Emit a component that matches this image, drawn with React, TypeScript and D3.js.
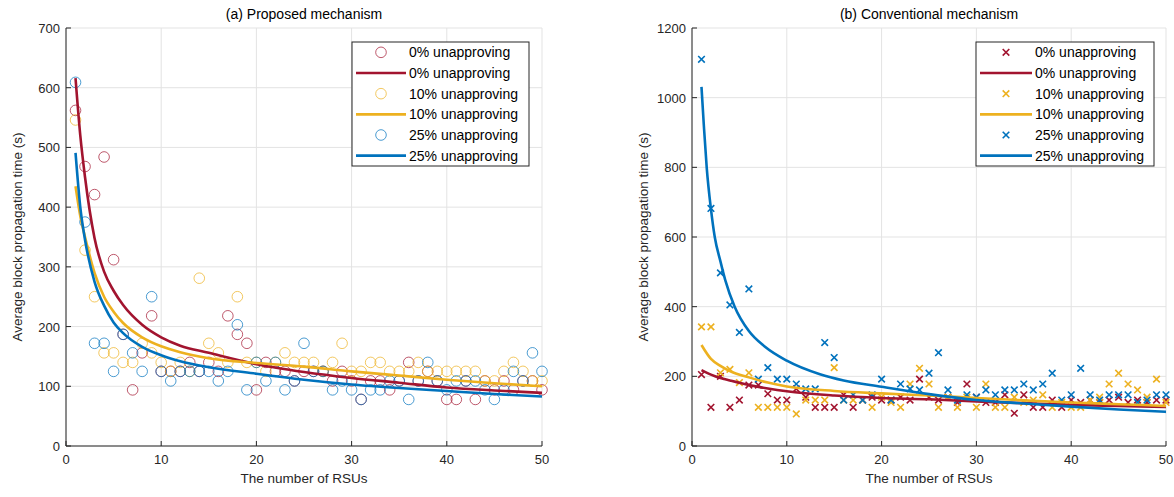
import React from "react";
import * as d3 from "d3";

// ---------- DATA ----------
const rsus = d3.range(1, 51);
const seriesNames = ["0% unapproving", "10% unapproving", "25% unapproving"];
const colors = ["#A2142F", "#EDB120", "#0072BD"];

// (a) Proposed mechanism - measured points
const propRed = [562, 468, 421, 484, 312, 187, 94, 156, 218, 125, 125, 125, 140, 125, 140, 125, 218, 187, 172, 94, 140, 125, 125, 109, 125, 125, 125, 109, 125, 109, 78, 109, 109, 94, 109, 140, 109, 125, 109, 78, 78, 109, 78, 109, 94, 109, 94, 109, 109, 94];
const propYellow = [546, 328, 250, 156, 156, 140, 140, 172, 156, 140, 125, 140, 125, 281, 172, 156, 140, 250, 140, 140, 125, 140, 156, 140, 140, 140, 125, 140, 172, 125, 125, 140, 140, 125, 125, 125, 140, 125, 125, 125, 125, 125, 125, 109, 109, 125, 140, 125, 109, 109];
const propBlue = [609, 375, 172, 172, 125, 187, 156, 125, 250, 125, 109, 125, 125, 125, 125, 109, 125, 203, 94, 140, 109, 140, 94, 109, 172, 125, 125, 94, 109, 94, 78, 94, 94, 109, 109, 78, 109, 140, 109, 94, 109, 109, 109, 94, 78, 94, 125, 109, 156, 125];

// (a) fitted curves, [RSUs, seconds]
const propRedFit: [number, number][] = [[1, 616], [1.5, 520], [2, 450], [3, 348], [4, 292], [5, 260], [6, 236], [8, 203], [10, 182], [12, 168], [15, 156], [20, 137], [25, 124], [30, 114], [35, 106], [40, 98], [45, 93], [50, 89]];
const propYellowFit: [number, number][] = [[1, 435], [1.5, 385], [2, 350], [3, 290], [4, 250], [5, 225], [6, 206], [8, 182], [10, 167], [12, 157], [15, 147], [20, 139], [25, 133], [30, 125], [35, 118], [40, 111], [45, 105], [50, 100]];
const propBlueFit: [number, number][] = [[1, 491], [1.5, 400], [2, 345], [3, 275], [4, 235], [5, 207], [6, 189], [8, 166], [10, 152], [12, 142], [15, 132], [20, 121], [25, 111], [30, 103], [35, 97], [40, 92], [45, 87], [50, 83]];

// (b) Conventional mechanism - measured points
const convRed = [205, 111, 200, 111, 132, 175, 175, 150, 132, 132, 164, 140, 111, 111, 111, 147, 111, 132, 140, 132, 132, 140, 132, 192, 140, 132, 140, 125, 178, 140, 125, 125, 147, 94, 147, 111, 111, 132, 111, 132, 125, 132, 125, 132, 140, 125, 132, 125, 132, 132];
const convYellow = [342, 342, 210, 220, 182, 210, 111, 111, 111, 111, 92, 132, 132, 132, 225, 132, 132, 132, 111, 140, 125, 111, 178, 223, 178, 111, 140, 111, 140, 111, 178, 111, 111, 140, 125, 132, 147, 111, 125, 111, 111, 132, 140, 178, 209, 178, 161, 140, 192, 125];
const convBlue = [1110, 682, 497, 405, 326, 451, 192, 225, 192, 192, 178, 164, 164, 297, 254, 132, 147, 132, 147, 192, 132, 178, 164, 161, 209, 268, 161, 132, 147, 140, 161, 147, 161, 161, 178, 161, 178, 209, 132, 147, 223, 147, 132, 147, 147, 147, 125, 132, 147, 147];

// (b) fitted curves
const convRedFit: [number, number][] = [[1, 218], [2, 205], [3, 195], [4, 188], [6, 175], [8, 165], [10, 157], [15, 145], [20, 138], [25, 134], [30, 128], [35, 123], [40, 118], [45, 115], [50, 112]];
const convYellowFit: [number, number][] = [[1, 290], [2, 250], [3, 230], [4, 215], [6, 197], [8, 182], [10, 171], [15, 158], [20, 151], [25, 145], [30, 138], [35, 131], [40, 125], [45, 120], [50, 115]];
const convBlueFit: [number, number][] = [[1, 1031], [1.25, 920], [1.55, 800], [2, 680], [2.4, 600], [3, 530], [3.5, 477], [4.5, 400], [6, 330], [7.7, 285], [10, 245], [13.5, 206], [16, 188], [20, 170], [25, 149], [30, 132], [35, 122], [40, 113], [45, 105], [50, 98]];

const xTicks = [0, 10, 20, 30, 40, 50];
const propYTicks = [0, 100, 200, 300, 400, 500, 600, 700];
const convYTicks = [0, 200, 400, 600, 800, 1000, 1200];

const titles = ["(a) Proposed mechanism", "(b) Conventional mechanism"];
const xLabel = "The number of RSUs";
const yLabel = "Average block propagation time (s)";

// ---------- DRAWING ----------
const FONT = "'Liberation Sans', Arial, Helvetica, sans-serif";
const AXIS = "#262626";
const GRID = "#e3e3e3";

type PanelProps = {
  left: number;
  right: number;
  top: number;
  bottom: number;
  yMax: number;
  yTicks: number[];
  points: number[][];
  fits: [number, number][][];
  marker: "circle" | "cross";
  title: string;
  legend: { x: number; y: number; w: number; h: number; lineX0: number; lineX1: number; textX: number };
};

function Marker({ kind, cx, cy, color }: { kind: "circle" | "cross"; cx: number; cy: number; color: string }) {
  if (kind === "circle") {
    return <circle cx={cx} cy={cy} r={5.3} fill="none" stroke={color} strokeWidth={1} strokeOpacity={0.7} />;
  }
  const s = 3.3;
  return (
    <path
      d={`M${cx - s},${cy - s}L${cx + s},${cy + s}M${cx - s},${cy + s}L${cx + s},${cy - s}`}
      stroke={color}
      strokeWidth={1.6}
      fill="none"
    />
  );
}

function Panel(p: PanelProps) {
  const x = d3.scaleLinear().domain([0, 50]).range([p.left, p.right]);
  const y = d3.scaleLinear().domain([0, p.yMax]).range([p.bottom, p.top]);
  const line = d3
    .line<[number, number]>()
    .x((d) => x(d[0]))
    .y((d) => y(d[1]))
    .curve(d3.curveMonotoneX);
  const cx = (p.left + p.right) / 2;
  const cy = (p.top + p.bottom) / 2;
  const L = p.legend;
  const rowH = L.h / 6;
  return (
    <g>
      {xTicks.map((t) => (
        <line key={"gx" + t} x1={x(t)} x2={x(t)} y1={p.top} y2={p.bottom} stroke={GRID} strokeWidth={1} />
      ))}
      {p.yTicks.map((t) => (
        <line key={"gy" + t} x1={p.left} x2={p.right} y1={y(t)} y2={y(t)} stroke={GRID} strokeWidth={1} />
      ))}
      {p.points.map((arr, si) =>
        arr.map((v, i) => (
          <Marker key={si + "-" + i} kind={p.marker} cx={x(rsus[i])} cy={y(v)} color={colors[si]} />
        ))
      )}
      {p.fits.map((f, si) => (
        <path key={"f" + si} d={line(f) || ""} fill="none" stroke={colors[si]} strokeWidth={2.6} />
      ))}
      <line x1={p.left} x2={p.right} y1={p.bottom} y2={p.bottom} stroke={AXIS} strokeWidth={1} />
      <line x1={p.left} x2={p.left} y1={p.top} y2={p.bottom} stroke={AXIS} strokeWidth={1} />
      {xTicks.map((t) => (
        <g key={"tx" + t}>
          <line x1={x(t)} x2={x(t)} y1={p.bottom} y2={p.bottom - 5} stroke={AXIS} strokeWidth={1} />
          <text x={x(t)} y={p.bottom + 18} textAnchor="middle" fontSize={13} fill={AXIS} fontFamily={FONT}>
            {t}
          </text>
        </g>
      ))}
      {p.yTicks.map((t) => (
        <g key={"ty" + t}>
          <line x1={p.left} x2={p.left + 5} y1={y(t)} y2={y(t)} stroke={AXIS} strokeWidth={1} />
          <text x={p.left - 6} y={y(t) + 5} textAnchor="end" fontSize={13} fill={AXIS} fontFamily={FONT}>
            {t}
          </text>
        </g>
      ))}
      <text x={cx} y={p.bottom + 37} textAnchor="middle" fontSize={13.5} fill={AXIS} fontFamily={FONT}>
        {xLabel}
      </text>
      <text
        transform={`translate(${p.left - 44},${cy}) rotate(-90)`}
        textAnchor="middle"
        fontSize={13.5}
        fill={AXIS}
        fontFamily={FONT}
      >
        {yLabel}
      </text>
      <text x={cx} y={19} textAnchor="middle" fontSize={14} fill="#000" fontFamily={FONT}>
        {p.title}
      </text>
      <rect x={L.x} y={L.y} width={L.w} height={L.h} fill="#fff" stroke={AXIS} strokeWidth={1} />
      {seriesNames.map((name, si) => {
        const y1 = L.y + rowH * (si * 2 + 0.5);
        const y2 = L.y + rowH * (si * 2 + 1.5);
        return (
          <g key={"lg" + si}>
            <Marker kind={p.marker} cx={(L.lineX0 + L.lineX1) / 2} cy={y1} color={colors[si]} />
            <text x={L.textX} y={y1 + 5} fontSize={14} fill="#000" fontFamily={FONT}>
              {name}
            </text>
            <line x1={L.lineX0} x2={L.lineX1} y1={y2} y2={y2} stroke={colors[si]} strokeWidth={2.6} />
            <text x={L.textX} y={y2 + 5} fontSize={14} fill="#000" fontFamily={FONT}>
              {name}
            </text>
          </g>
        );
      })}
    </g>
  );
}

export default function App() {
  return (
    <svg
      width={1174}
      height={497}
      style={{ position: "absolute", left: 0, top: 0, background: "#fff" }}
      xmlns="http://www.w3.org/2000/svg"
    >
      <rect x={0} y={0} width={1174} height={497} fill="#fff" />
      <Panel
        left={66}
        right={542}
        top={28}
        bottom={446}
        yMax={700}
        yTicks={propYTicks}
        points={[propRed, propYellow, propBlue]}
        fits={[propRedFit, propYellowFit, propBlueFit]}
        marker="circle"
        title={titles[0]}
        legend={{ x: 352, y: 42, w: 177, h: 124, lineX0: 356, lineX1: 406, textX: 409 }}
      />
      <Panel
        left={692}
        right={1166}
        top={28}
        bottom={446}
        yMax={1200}
        yTicks={convYTicks}
        points={[convRed, convYellow, convBlue]}
        fits={[convRedFit, convYellowFit, convBlueFit]}
        marker="cross"
        title={titles[1]}
        legend={{ x: 976, y: 42, w: 178, h: 124, lineX0: 980, lineX1: 1032, textX: 1035 }}
      />
    </svg>
  );
}
